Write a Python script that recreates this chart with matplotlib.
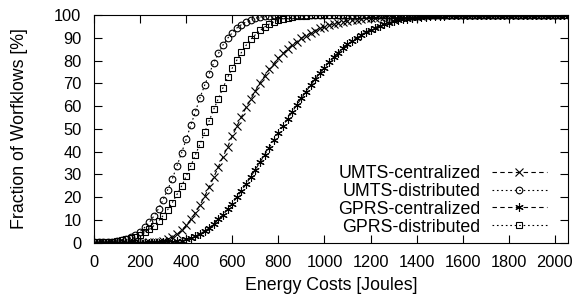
"""
Energy cost CDF of workflows: UMTS/GPRS, centralized vs distributed
"""

import matplotlib
matplotlib.use('Agg')
import matplotlib.pyplot as plt

# energy grid, one sample every 20 Joules
energy = list(range(0, 2041, 20))

# fraction of workflows [%]
umts_distributed = [
    0.1, 0.1, 0.2, 0.3, 0.5, 0.8, 1.2, 1.7, 2.5, 3.5,
    4.9, 6.7, 8.9, 11.7, 14.9, 18.9, 23.3, 28.1, 33.7, 39.4,
    45.4, 51.6, 57.5, 63.7, 69.1, 74.2, 79.1, 83.1, 86.9, 89.8,
    92.2, 94.3, 95.8, 97.0, 97.9, 98.6, 99.1, 99.4, 99.6, 99.8,
    99.9, 99.9, 100, 100, 100, 100, 100, 100, 100, 100,
    100, 100, 100, 100, 100, 100, 100, 100, 100, 100,
    100, 100, 100, 100, 100, 100, 100, 100, 100, 100,
    100, 100, 100, 100, 100, 100, 100, 100, 100, 100,
    100, 100, 100, 100, 100, 100, 100, 100, 100, 100,
    100, 100, 100, 100, 100, 100, 100, 100, 100, 100,
    100, 100, 100,
]
gprs_distributed = [
    0.1, 0.2, 0.2, 0.3, 0.5, 0.7, 1.0, 1.4, 1.9, 2.6,
    3.4, 4.5, 5.8, 7.5, 9.5, 11.9, 14.5, 17.6, 21.2, 24.8,
    29.1, 33.7, 38.6, 43.3, 48.4, 53.6, 58.7, 63.3, 68.1, 72.6,
    76.7, 80.2, 83.6, 86.7, 89.3, 91.3, 93.2, 94.7, 96.0, 96.9,
    97.7, 98.3, 98.8, 99.1, 99.4, 99.6, 99.7, 99.8, 99.9, 99.9,
    100, 100, 100, 100, 100, 100, 100, 100, 100, 100,
    100, 100, 100, 100, 100, 100, 100, 100, 100, 100,
    100, 100, 100, 100, 100, 100, 100, 100, 100, 100,
    100, 100, 100, 100, 100, 100, 100, 100, 100, 100,
    100, 100, 100, 100, 100, 100, 100, 100, 100, 100,
    100, 100, 100,
]
umts_centralized = [
    0, 0, 0, 0, 0, 0, 0, 0, 0, 0,
    0.0, 0.0, 0.1, 0.2, 0.4, 0.8, 1.5, 2.4, 3.7, 5.4,
    7.6, 10.2, 13.1, 16.6, 20.3, 24.5, 28.8, 33.4, 37.8, 42.1,
    46.8, 51.2, 55.2, 59.5, 62.9, 66.6, 70.2, 73.2, 76.1, 78.5,
    81.1, 83.1, 85.1, 86.9, 88.3, 89.8, 91.0, 92.1, 93.1, 94.1,
    94.7, 95.4, 96.0, 96.6, 97.0, 97.4, 97.7, 98.0, 98.3, 98.5,
    98.7, 98.9, 99.0, 99.2, 99.3, 99.4, 99.5, 99.5, 99.6, 99.6,
    99.7, 99.7, 99.8, 99.8, 99.8, 99.9, 99.9, 99.9, 99.9, 99.9,
    100, 100, 100, 100, 100, 100, 100, 100, 100, 100,
    100, 100, 100, 100, 100, 100, 100, 100, 100, 100,
    100, 100, 100,
]
gprs_centralized = [
    0, 0, 0, 0, 0, 0, 0, 0, 0, 0,
    0, 0, 0, 0, 0, 0.1, 0.2, 0.3, 0.6, 0.9,
    1.4, 2.0, 2.8, 3.8, 5.1, 6.6, 8.2, 10.2, 12.3, 14.7,
    17.2, 20.0, 22.8, 25.8, 28.9, 32.1, 35.3, 38.6, 41.8, 45.0,
    48.2, 51.2, 54.4, 57.5, 60.5, 63.5, 66.4, 69.2, 71.9, 74.5,
    76.9, 79.3, 81.4, 83.5, 85.3, 87.1, 88.6, 90.1, 91.4, 92.5,
    93.6, 94.5, 95.3, 96.1, 96.7, 97.2, 97.7, 98.1, 98.4, 98.7,
    98.9, 99.1, 99.3, 99.5, 99.6, 99.7, 99.7, 99.8, 99.8, 99.9,
    99.9, 99.9, 99.9, 100, 100, 100, 100, 100, 100, 100,
    100, 100, 100, 100, 100, 100, 100, 100, 100, 100,
    100, 100, 100,
]

plt.rcParams['font.family'] = ['Liberation Sans', 'DejaVu Sans']

fig = plt.figure(figsize=(5.78, 3.02), dpi=100)
ax = fig.add_axes([0.1626, 0.1964, 0.8194, 0.7539])

common = dict(color='black', linewidth=0.8, markerfacecolor='none',
              markeredgewidth=0.8)
ax.plot(energy, umts_centralized, linestyle=(0, (4, 3)), marker='x',
        markersize=5.5, label='UMTS-centralized', **common)
ax.plot(energy, umts_distributed, linestyle=(0, (1.5, 2.5)), marker='o',
        markersize=4.8, label='UMTS-distributed', **common)
ax.plot(energy, gprs_centralized, linestyle=(0, (4, 3)), marker=(6, 2, 0),
        markersize=6, label='GPRS-centralized', **common)
ax.plot(energy, gprs_distributed, linestyle=(0, (1.5, 2.5)), marker='s',
        markersize=5, label='GPRS-distributed', **common)
# plot the four curves

ax.set_xlim(0, 2055)
ax.set_ylim(0, 100)
ax.set_xticks(range(0, 2001, 200))
ax.set_yticks(range(0, 101, 10))
ax.tick_params(direction='in', length=5.8, width=0.8, top=True, right=True,
               labelsize=11.8, pad=9)
for s in ax.spines.values():
    s.set_linewidth(0.8)
# axes limits and gnuplot-like ticks

ax.set_xlabel('Energy Costs [Joules]', fontsize=12.8, labelpad=5)
ax.set_ylabel('Fraction of Worfklows [%]', fontsize=12.8, labelpad=19)

ax.legend(loc='lower right', frameon=False, markerfirst=False,
          handlelength=3.1, handletextpad=0.63, labelspacing=0.05,
          borderaxespad=0, bbox_to_anchor=(0.971, 0.0), fontsize=12.8)
# key on the lower right, text first then sample

fig.savefig('out.png', dpi=100)
